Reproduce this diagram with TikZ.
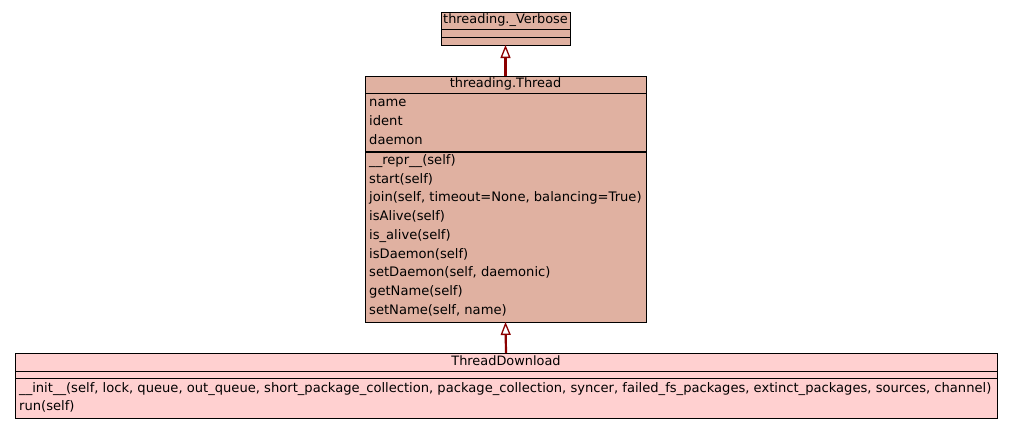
\documentclass[tikz,border=0pt]{standalone}
\usepackage{fontspec}
\setmainfont{DejaVu Sans}
\usetikzlibrary{arrows.meta, positioning}
\definecolor{umlbase}{RGB}{224, 177, 161}
\definecolor{umlchild}{RGB}{255, 208, 208}
\definecolor{umlarrow}{RGB}{139, 0, 0}

\begin{document}
\begin{tikzpicture}[x=1pt, y=-1pt,
  classbox/.style={draw=black, line width=1pt, anchor=north west,
    inner sep=0pt, outer sep=0pt},
  classname/.style={anchor=base, inner sep=0pt,
    font=\fontsize{12.9}{15}\selectfont},
  member/.style={anchor=base west, inner sep=0pt,
    font=\fontsize{13.1}{15}\selectfont},
  inherit/.style={umlarrow, line width=2.2pt,
    -{Triangle[open, length=13pt, width=10pt, line width=1.3pt, fill=white]}}]

  \useasboundingbox (0,0) rectangle (1013,429);

  % --- threading._Verbose ---
  \node[classbox, fill=umlbase, minimum width=129pt, minimum height=33pt]
    (verbose) at (441,12) {};
  \draw[line width=1pt] (441,29.5) -- (570,29.5);
  \draw[line width=1pt] (441,37) -- (570,37);
  \node[classname] (verbose-name) at (505.5,23) {threading.\_Verbose};

  % --- threading.Thread ---
  \node[classbox, fill=umlbase, minimum width=281pt, minimum height=246pt]
    (thread) at (365,76) {};
  \draw[line width=1pt] (365,93.5) -- (646,93.5);
  \draw[line width=1.4pt] (365,152) -- (646,152);
  \node[classname] (thread-name) at (505.5,87) {threading.Thread};
  \foreach \txt [count=\i from 0] in {name, ident, daemon}
    \node[member] (thread-a\i) at (369,106.9+18.7*\i) {\txt};
  \foreach \txt [count=\i from 0] in {\_\_repr\_\_(self), start(self),
      {join(self, timeout=None, balancing=True)}, isAlive(self),
      is\_alive(self), isDaemon(self), {setDaemon(self, daemonic)},
      getName(self), {setName(self, name)}}
    \node[member] (thread-m\i) at (369,164.5+18.7*\i) {\txt};

  % --- ThreadDownload ---
  \node[classbox, fill=umlchild, minimum width=982pt, minimum height=65pt]
    (download) at (15,353) {};
  \draw[line width=1pt] (15,371) -- (997,371);
  \draw[line width=1pt] (15,378) -- (997,378);
  \node[classname] (download-name) at (506,365.3) {ThreadDownload};
  \node[member] (download-m0) at (19,392)
    {\_\_init\_\_(self, lock, queue, out\_queue, short\_package\_collection, package\_collection, syncer, failed\_fs\_packages, extinct\_packages, sources, channel)};
  \node[member] (download-m1) at (19,410.7) {run(self)};

  % --- inheritance ---
  \draw[inherit] (thread.north) -- (verbose.south);
  \draw[inherit] (download.north) -- (thread.south);

\end{tikzpicture}
\end{document}
